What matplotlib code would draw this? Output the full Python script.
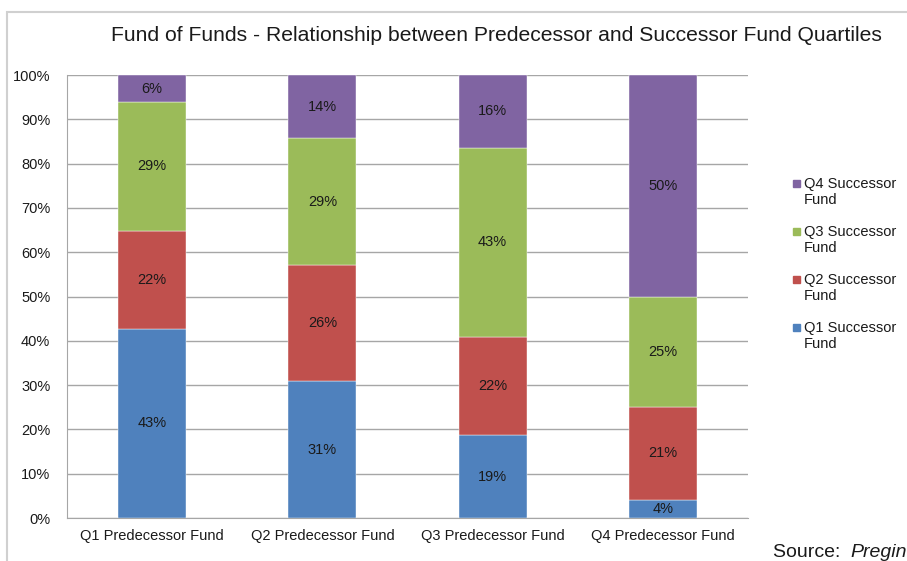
import numpy as np
import matplotlib.pyplot as plt
from matplotlib.patches import Rectangle

plt.rcParams['font.family'] = ['Liberation Sans', 'DejaVu Sans']

predecessors = ["Q1 Predecessor Fund", "Q2 Predecessor Fund",
                "Q3 Predecessor Fund", "Q4 Predecessor Fund"]
series_names = ["Q1 Successor\nFund", "Q2 Successor\nFund",
                "Q3 Successor\nFund", "Q4 Successor\nFund"]
q1_successor = [42.7, 30.9, 18.7, 4.1]
q2_successor = [22.1, 26.2, 22.2, 21.0]
q3_successor = [29.1, 28.6, 42.7, 24.9]
q4_successor = [6.1, 14.3, 16.4, 50.0]
colors = ["#4F81BD", "#C0504D", "#9BBB59", "#8064A2"]

W, H = 907, 561
fig = plt.figure(figsize=(W / 100, H / 100), dpi=100)
ax = fig.add_axes([0.0739, 0.0766, 0.7508, 0.7897])

x = np.arange(len(predecessors))
bottom = np.zeros(len(predecessors))
for name, vals, c in zip(series_names,
                         [q1_successor, q2_successor, q3_successor, q4_successor],
                         colors):
    vals = np.array(vals)
    ax.bar(x, vals, 0.4, bottom=bottom, color=c, label=name,
           edgecolor="white", linewidth=0.3, zorder=3)
    for xi, v, bt in zip(x, vals, bottom):
        ax.text(xi, bt + v / 2, "%.0f%%" % v, ha="center", va="center",
                fontsize=10.5, color="#1a1a1a", zorder=4)
    bottom += vals

ax.set_xlim(-0.5, 3.5)
ax.set_ylim(0, 100)
ax.set_yticks(np.arange(0, 101, 10))
ax.set_yticklabels(["%d%%" % v for v in range(0, 101, 10)])
ax.set_xticks(x)
ax.set_xticklabels(predecessors)
ax.tick_params(axis="both", labelsize=10.5, colors="#1a1a1a", length=0, pad=8)
ax.tick_params(axis="y", pad=12)
ax.yaxis.grid(True, color="#a6a6a6", linewidth=1, zorder=0)
for s in ["top", "right"]:
    ax.spines[s].set_visible(False)
for s in ["left", "bottom"]:
    ax.spines[s].set_color("#a6a6a6")

# legend, top entry = Q4, square beside the first line of each label
for i, (name, c) in enumerate(zip(series_names[::-1], colors[::-1])):
    y1 = 183.5 + i * 48
    fig.patches.append(Rectangle((793 / W, 1 - (y1 + 3.5) / H), 7 / W, 7 / H,
                                 transform=fig.transFigure, color=c))
    fig.text(804 / W, 1 - (y1 + 8.5) / H, name, ha="left", va="center",
             fontsize=10.5, color="#1a1a1a")

fig.text(0.547, 0.936, "Fund of Funds - Relationship between Predecessor and Successor Fund Quartiles",
         ha="center", va="center", fontsize=15.2, color="#1a1a1a")

fig.patches.append(Rectangle((7 / W, -0.2), 1.5, 1 - 12 / H + 0.2,
                             transform=fig.transFigure, fill=False,
                             edgecolor="#d0d0d0", linewidth=1.5))

fig.text(773 / W, 0.016, "Source: ", ha="left", va="center",
         fontsize=14, color="#1a1a1a")
fig.text(850 / W, 0.016, "Pregin", ha="left", va="center",
         fontsize=14, style="italic", color="#1a1a1a")

fig.savefig("out.png", dpi=100)
